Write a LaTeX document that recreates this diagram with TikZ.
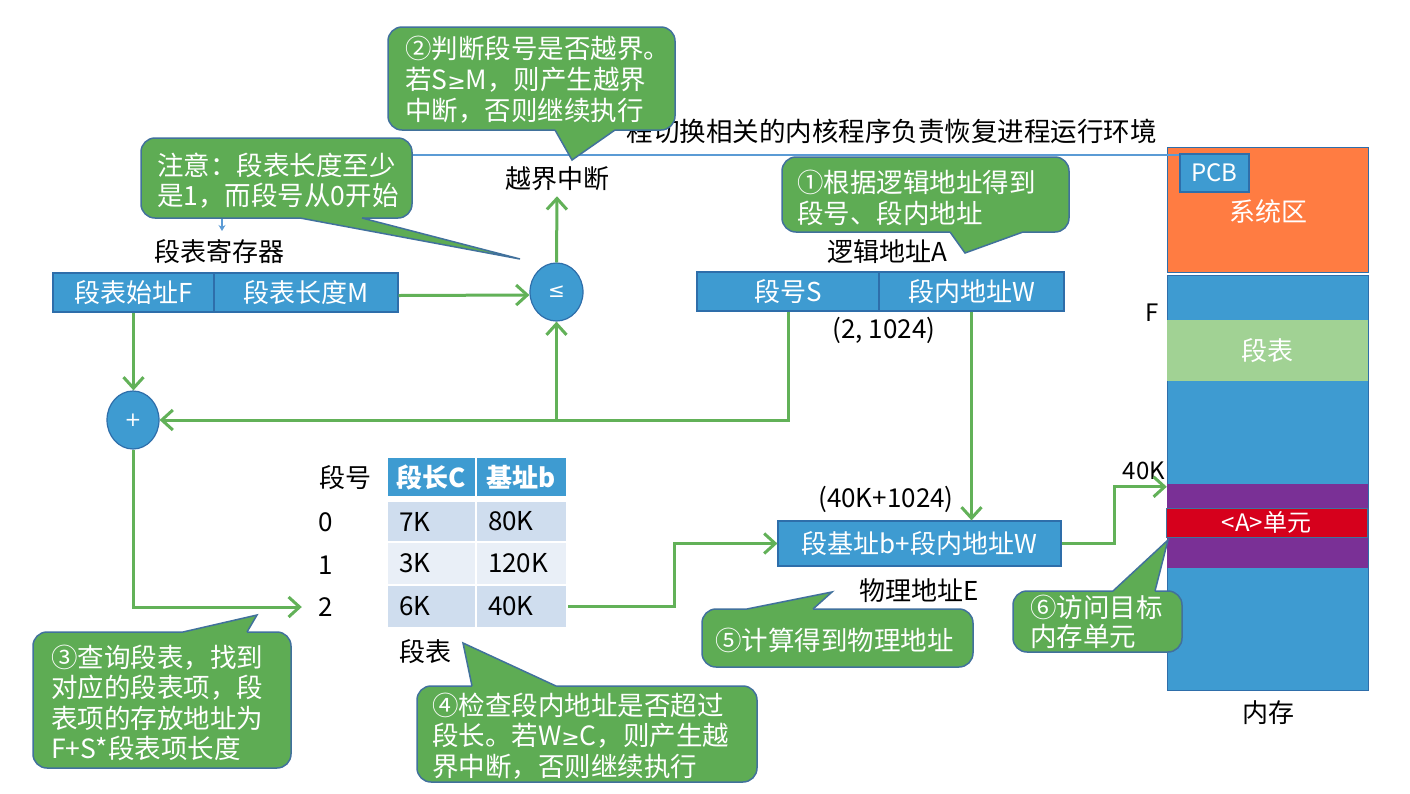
\documentclass[tikz,border=0pt]{standalone}
\usepackage{fontspec}
\setmainfont{Noto Sans CJK SC}
\newfontfamily\symf{DejaVu Sans}
\usetikzlibrary{arrows.meta,calc,shapes.geometric}
\definecolor{gfill}{RGB}{94,172,84}
\definecolor{cborder}{RGB}{65,113,156}
\definecolor{bfill}{RGB}{62,155,209}
\definecolor{bborder}{RGB}{46,110,170}
\definecolor{garr}{RGB}{98,177,88}
\definecolor{blin}{RGB}{91,155,213}
\definecolor{orng}{RGB}{255,124,66}
\definecolor{segtbl}{RGB}{161,210,148}
\definecolor{purp}{RGB}{122,48,150}
\definecolor{redc}{RGB}{214,0,28}
\definecolor{rowdark}{RGB}{207,221,238}
\definecolor{rowlight}{RGB}{233,239,247}
\newcommand\myfn{\fontsize{26}{30}\selectfont}
\newcommand\myfc{\fontsize{26.5}{30.5}\selectfont}
\newcommand\myfs{\fontsize{20}{22}\selectfont}
\newcommand\myfp{\fontsize{24}{28}\selectfont}
\newcommand\myge{{\symf\fontsize{22}{26}\selectfont ≥}}
\newcommand\mycallptr[5]{%
  \fill[gfill] (#1,#3) -- (#5) -- (#2,#3) -- (#2,#4) -- (#1,#4) -- cycle;
  \draw[cborder,line width=1.5pt] (#1,#3) -- (#5) -- (#2,#3);}
\begin{document}
\begin{tikzpicture}[x=1pt,y=-1pt,
  callbox/.style={draw=cborder,line width=1.5pt,fill=gfill,rounded corners=14pt,inner sep=0pt},
  ctext/.style={anchor=west,align=left,text=white,inner sep=0pt,font=\myfc},
  lbl/.style={inner sep=0pt,font=\myfn,text=black},
  bbox/.style={draw=bborder,line width=1.2pt,fill=bfill,text=white,inner sep=0pt,font=\myfn},
  circ/.style={ellipse,draw=bborder,line width=1.2pt,fill=bfill,inner sep=0pt,text=white,font=\symf\myfs},
  garrow/.style={draw=garr,line width=3pt,-{Straight Barb[length=11pt,width=20pt]}},
  thead/.style={fill=bfill,draw=white,line width=2pt,text=white,inner sep=0pt,font=\myfn\bfseries,minimum height=40pt},
  tdata/.style={draw=white,line width=2pt,inner xsep=12pt,inner ysep=0pt,align=left,font=\myfn,text=black},
  memband/.style={minimum width=201pt,inner sep=0pt}]
\fill[white] (0,0) rectangle (1410,793);
\useasboundingbox (0,0) rectangle (1410,793);

% top text (partly hidden by callout 2)
\node[lbl,anchor=east,font=\myfc] (toptext) at (1157,131) {程切换相关的内核程序负责恢复进程运行环境};

% memory column
\node[memband,draw=bborder,line width=1pt,fill=orng,minimum height=125pt] (sys) at (1267.5,209.5) {};
\node[inner sep=0pt,text=white,font=\myfn] (systxt) at (1268,212) {系统区};
\node[bbox,minimum width=69pt,minimum height=38pt,font=\myfp] (pcb) at (1214.5,173) {PCB};
\node[memband,draw=bborder,line width=1pt,fill=bfill,minimum height=415pt] (mem) at (1267.5,482.5) {};
\node[memband,fill=segtbl,minimum height=61pt,text=white,font=\myfn] (segt) at (1267.5,350.5) {段表};
\node[memband,fill=purp,minimum height=84pt] (purple) at (1267.5,526) {};
\node[memband,fill=redc,draw=cborder,line width=1pt,minimum height=29pt,text=white,font=\myfp] (cellA) at (1266.5,522.5) {<A>单元};
\node[lbl,font=\myfp] (flbl) at (1152,313) {F};
\node[lbl,font=\myfp] (k40) at (1144,471) {40K};
\node[lbl] (memlbl) at (1268,713) {内存};

% blue line from PCB to segment table register
\coordinate (regtip) at (222,231);
\draw[blin,line width=2pt,-{Stealth[length=6pt,width=7pt]}] ([yshift=-2pt]pcb.north west) -| (regtip);

% segment table register
\node[lbl] (regtitle) at (219,252) {段表寄存器};
\node[bbox,minimum width=161pt,minimum height=39pt] (regF) at (133.5,292.5) {段表始址F};
\node[bbox,minimum width=184pt,minimum height=39pt] (regM) at (306,292.5) {段表长度M};

% logical address
\node[lbl] (logA) at (887,252) {逻辑地址A};
\node[bbox,minimum width=182pt,minimum height=39pt] (segS) at (788,291.5) {段号S};
\node[bbox,minimum width=185pt,minimum height=39pt] (segW) at (971.5,291.5) {段内地址W};
\node[lbl] (addr) at (884,330) {(2, 1024)};

% comparators
\node[circ,minimum width=53pt,minimum height=58pt] (leq) at (556.5,292) {≤};
\node[circ,minimum width=52pt,minimum height=58pt] (plus) at (133,420) {+};
\node[lbl] (yuejie) at (557,179) {越界中断};

% segment table
\node[lbl] (hnum) at (345,478) {段号};
\node[thead,minimum width=89pt] (hC) at (431.5,477) {段长C};
\node[thead,minimum width=91pt] (hb) at (521.5,477) {基址b};
\node[tdata,fill=rowdark,text width=65pt,minimum height=41pt] (c0C) at (431.5,521.5) {7K};
\node[tdata,fill=rowdark,text width=67pt,minimum height=41pt] (c0b) at (521.5,521.5) {80K};
\node[tdata,fill=rowlight,text width=65pt,minimum height=43pt] (c1C) at (431.5,563.5) {3K};
\node[tdata,fill=rowlight,text width=67pt,minimum height=43pt] (c1b) at (521.5,563.5) {120K};
\node[tdata,fill=rowdark,text width=65pt,minimum height=43pt] (c2C) at (431.5,606.5) {6K};
\node[tdata,fill=rowdark,text width=67pt,minimum height=43pt] (c2b) at (521.5,606.5) {40K};
\node[lbl,minimum width=40pt] (lbl0) at (326,522) {0};
\node[lbl,minimum width=40pt] (lbl1) at (326,565) {1};
\node[lbl,minimum width=40pt] (lbl2) at (326,607) {2};
\node[lbl] (tbltitle) at (425,652) {段表};

% physical address
\node[lbl] (physval) at (886,499) {(40K+1024)};
\node[bbox,minimum width=283pt,minimum height=45pt] (phys) at (919.5,543.5) {段基址b+段内地址W};
\node[lbl] (physlbl) at (919,591) {物理地址E};

% green connectors
\draw[garrow] (regF.south) -- (regF.south |- plus.north);
\draw[garrow] ([yshift=-3pt]regM.east) -- ([yshift=-3pt]leq.west);
\draw[garrow] (leq.north) -- ([yshift=-5pt]yuejie.south);
\draw[garrow] (segS.south) |- (plus.east);
\draw[garrow] (leq.south |- plus.east) -- (leq.south);
\draw[garrow,shorten >=4pt] (plus.south) |- (lbl2.west);
\draw[garrow] (c2b.east) -- ++(106,0) |- (phys.west);
\draw[garrow] (segW.south) -- (segW.south |- phys.north);
\coordinate (memtgt) at ([yshift=-3pt]purple.north west);
\draw[garrow] (phys.east) -- ++(53,0) |- (memtgt);

% callouts
\node[callbox,minimum width=287pt,minimum height=103pt] (c2) at (531.5,78.5) {};
\node[ctext,font=\fontsize{26.5}{31}\selectfont] (c2t) at (405,80) {②判断段号是否越界。\\若S\myge M，则产生越界\\中断，否则继续执行};
\mycallptr{555}{615}{130}{126}{572,160}

\node[callbox,minimum width=271pt,minimum height=80pt] (cz) at (276.5,178) {};
\node[ctext] (czt) at (157,180.5) {注意：段表长度至少\\是1，而段号从0开始};
\mycallptr{300}{362}{218}{214}{520,259}

\node[callbox,minimum width=287pt,minimum height=75pt] (c1) at (925.5,194.5) {};
\node[ctext] (c1t) at (797,198) {①根据逻辑地址得到\\段号、段内地址};
\mycallptr{950}{1023}{232}{228}{965,253}

\node[callbox,minimum width=258pt,minimum height=136pt] (c3) at (162,700) {};
\node[ctext] (c3t) at (51,703) {③查询段表，找到\\对应的段表项，段\\表项的存放地址为\\F+S*段表项长度};
\mycallptr{183}{247}{632}{636}{257,615}

\node[callbox,minimum width=340pt,minimum height=96pt] (c4) at (587,734) {};
\node[ctext] (c4t) at (432,736) {④检查段内地址是否超过\\段长。若W\myge C，则产生越\\界中断，否则继续执行};
\mycallptr{472}{556}{686}{690}{463,643}

\node[callbox,minimum width=271pt,minimum height=58pt] (c5) at (837.5,638) {};
\node[ctext] (c5t) at (715,640) {⑤计算得到物理地址};
\mycallptr{747}{813}{609}{613}{832,592}

\node[callbox,minimum width=169pt,minimum height=61pt] (c6) at (1097.5,621.5) {};
\node[ctext,font=\fontsize{26.5}{29}\selectfont] (c6t) at (1030,622) {⑥访问目标\\内存单元};
\mycallptr{1113}{1155}{591}{595}{1168,540}
\end{tikzpicture}
\end{document}
